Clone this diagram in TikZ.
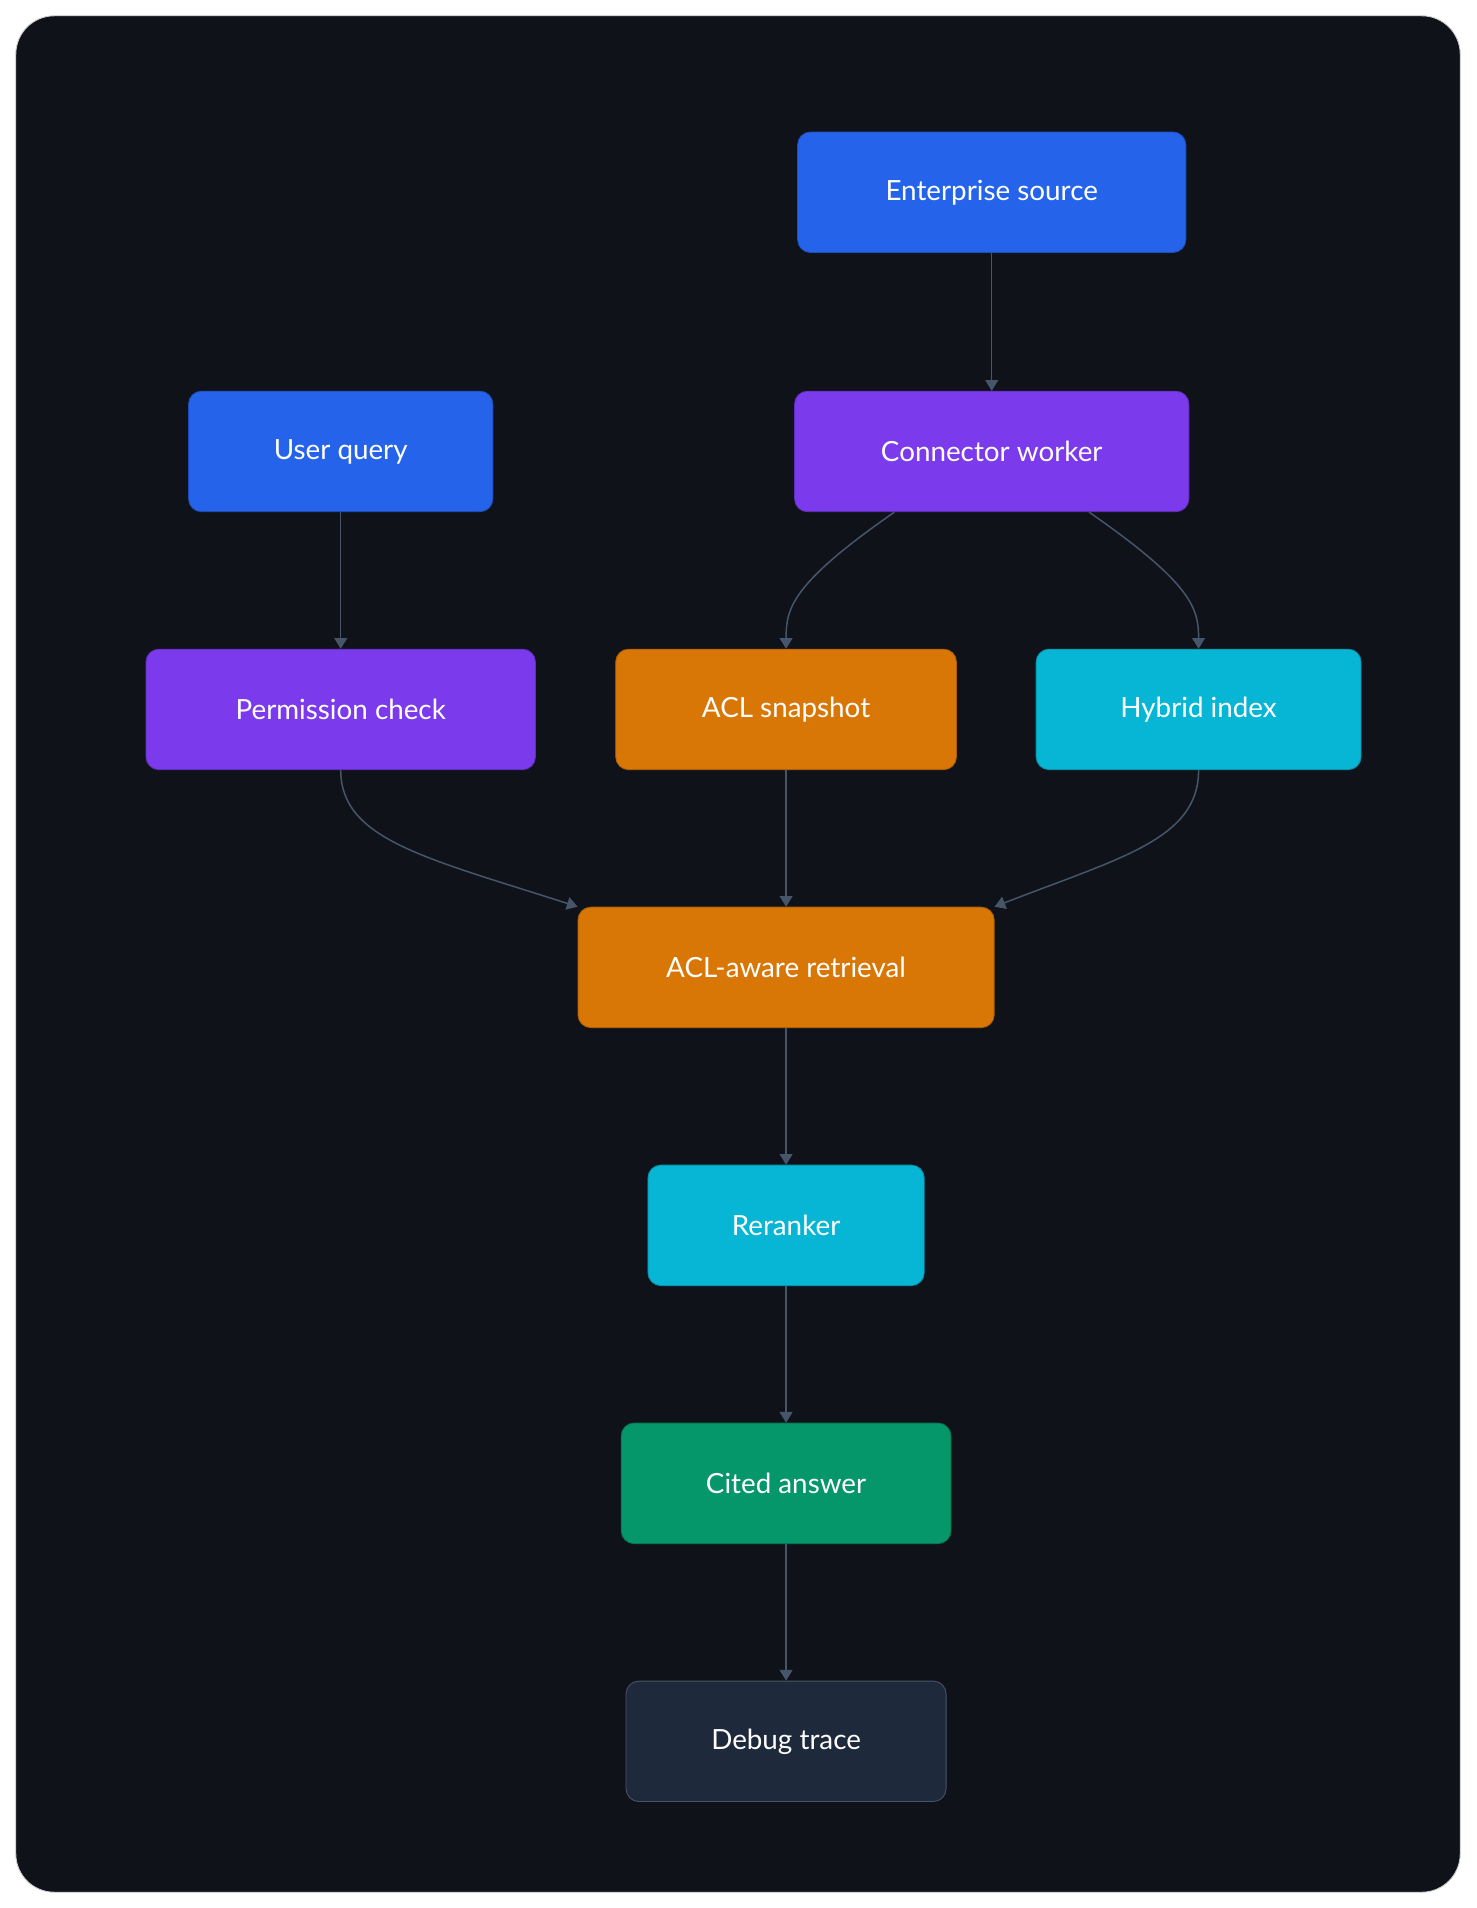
\documentclass[tikz,border=0pt]{standalone}
\usepackage{fontspec}
\setmainfont{Lato}
\usetikzlibrary{positioning,arrows.meta}
\definecolor{bgdark}{HTML}{10121A}
\definecolor{cblue}{HTML}{2563EB}
\definecolor{cpurple}{HTML}{7C3AED}
\definecolor{corange}{HTML}{D97706}
\definecolor{ccyan}{HTML}{06B6D4}
\definecolor{cgreen}{HTML}{059669}
\definecolor{cslate}{HTML}{1E293B}
\definecolor{edgec}{HTML}{475569}
\tikzset{
  box/.style={draw=#1!80!black, fill=#1, rounded corners=6pt, text=white,
    minimum height=99*0.02cm, inner sep=0pt, font=\fontsize{13}{15}\selectfont},
  flow/.style={draw=edgec, line width=0.7pt, -{Triangle[length=5pt,width=6pt]}}
}
\begin{document}
\begin{tikzpicture}[x=0.02cm,y=-0.02cm]
  \useasboundingbox (0,0) rectangle (1213,1568);
  \fill[white] (0,0) rectangle (1213,1568);
  \fill[bgdark, draw=gray!40, rounded corners=18pt] (13,13) rectangle (1200,1555);

  \node[box=cblue, minimum width=319*0.02cm] (source) at (815,158) {Enterprise source};
  \node[box=cblue, minimum width=250*0.02cm] (query) at (280,371) {User query};
  \node[box=cpurple, minimum width=324*0.02cm] (worker) at (815,371) {Connector worker};
  \node[box=cpurple, minimum width=320*0.02cm] (perm) at (280,583) {Permission check};
  \node[box=corange, minimum width=280*0.02cm] (acl) at (646,583) {ACL snapshot};
  \node[box=ccyan, minimum width=267*0.02cm] (hybrid) at (985,583) {Hybrid index};
  \node[box=corange, minimum width=342*0.02cm] (retrieval) at (646,795) {ACL-aware retrieval};
  \node[box=ccyan, minimum width=227*0.02cm] (rerank) at (646,1007) {Reranker};
  \node[box=cgreen, minimum width=271*0.02cm] (answer) at (646,1219) {Cited answer};
  \node[box=cslate, draw=edgec, minimum width=263*0.02cm] (trace) at (646,1431) {Debug trace};

  \draw[flow] (source) -- (worker);
  \draw[flow] (query) -- (perm);
  \draw[flow] ([xshift=-80*0.02cm]worker.south) .. controls (650,480) and (646,500) .. (acl.north);
  \draw[flow] ([xshift=80*0.02cm]worker.south) .. controls (980,480) and (985,500) .. (hybrid.north);
  \draw[flow] (perm.south) .. controls (280,690) and (350,705) .. (retrieval.north west);
  \draw[flow] (acl) -- (retrieval);
  \draw[flow] (hybrid.south) .. controls (985,690) and (920,705) .. (retrieval.north east);
  \draw[flow] (retrieval) -- (rerank);
  \draw[flow] (rerank) -- (answer);
  \draw[flow] (answer) -- (trace);
\end{tikzpicture}
\end{document}
